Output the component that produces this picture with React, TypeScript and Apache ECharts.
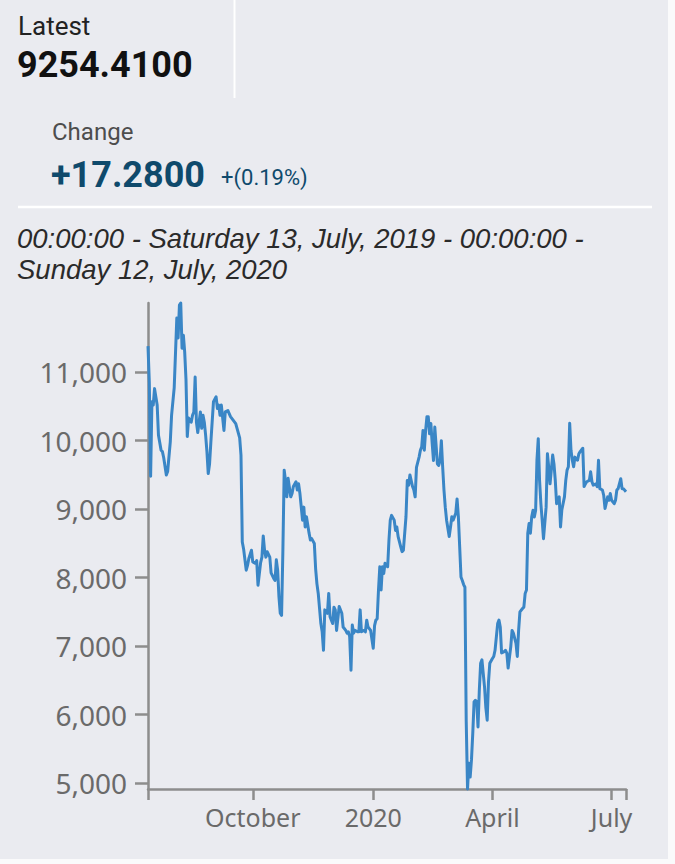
import React, { useEffect, useRef } from "react";
import * as echarts from "echarts";

const latestLabel = "Latest";
const latestValue = "9254.4100";
const changeLabel = "Change";
const changeValue = "+17.2800";
const changePct = "+(0.19%)";
const rangeLines = [
  "00:00:00 - Saturday 13, July, 2019 - 00:00:00 -",
  "Sunday 12, July, 2020",
];

const axisStart = "2019-07-13";
const axisEnd = "2020-07-12";
const xTickDates = ["2019-10-01", "2020-01-01", "2020-04-01", "2020-07-01"];
const xTickLabels = ["October", "2020", "April", "July"];
const yTickValues = [5000, 6000, 7000, 8000, 9000, 10000, 11000];

const priceSeries: [string, number][] = [
  ["2019-07-13", 11380], ["2019-07-14", 10850], ["2019-07-15", 9480], ["2019-07-16", 10570],
  ["2019-07-17", 10520], ["2019-07-18", 10760], ["2019-07-20", 10520], ["2019-07-21", 10080],
  ["2019-07-23", 9860], ["2019-07-24", 9840], ["2019-07-25", 9750], ["2019-07-27", 9500],
  ["2019-07-28", 9550], ["2019-07-30", 9980], ["2019-07-31", 10370], ["2019-08-02", 10770],
  ["2019-08-04", 11790], ["2019-08-05", 11500], ["2019-08-06", 11980], ["2019-08-07", 12010],
  ["2019-08-08", 11350], ["2019-08-09", 11540], ["2019-08-10", 11300], ["2019-08-11", 10900],
  ["2019-08-12", 10060], ["2019-08-13", 10330], ["2019-08-15", 10270], ["2019-08-16", 10370],
  ["2019-08-17", 10420], ["2019-08-18", 10930], ["2019-08-19", 10270], ["2019-08-20", 10120],
  ["2019-08-22", 10420], ["2019-08-23", 10180], ["2019-08-24", 10370], ["2019-08-25", 10270],
  ["2019-08-26", 10080], ["2019-08-27", 9840], ["2019-08-28", 9520], ["2019-08-29", 9660],
  ["2019-08-30", 9980], ["2019-09-01", 10570], ["2019-09-03", 10640], ["2019-09-04", 10470],
  ["2019-09-05", 10520], ["2019-09-06", 10370], ["2019-09-07", 10520], ["2019-09-09", 10150],
  ["2019-09-10", 10420], ["2019-09-12", 10440], ["2019-09-14", 10350], ["2019-09-16", 10300],
  ["2019-09-18", 10250], ["2019-09-19", 10180], ["2019-09-21", 10040], ["2019-09-22", 9790],
  ["2019-09-23", 8520], ["2019-09-24", 8420], ["2019-09-26", 8110], ["2019-09-27", 8180],
  ["2019-09-28", 8280], ["2019-09-30", 8400], ["2019-10-01", 8230], ["2019-10-03", 8210],
  ["2019-10-04", 8250], ["2019-10-05", 7890], ["2019-10-07", 8220], ["2019-10-08", 8300],
  ["2019-10-09", 8610], ["2019-10-10", 8400], ["2019-10-11", 8300], ["2019-10-12", 8380],
  ["2019-10-14", 8300], ["2019-10-15", 8070], ["2019-10-17", 7990], ["2019-10-18", 7960],
  ["2019-10-19", 8260], ["2019-10-20", 8110], ["2019-10-21", 7720], ["2019-10-22", 7480],
  ["2019-10-23", 7450], ["2019-10-24", 8400], ["2019-10-25", 9570], ["2019-10-26", 9420],
  ["2019-10-27", 9180], ["2019-10-28", 9450], ["2019-10-30", 9180], ["2019-10-31", 9230],
  ["2019-11-01", 9330], ["2019-11-03", 9400], ["2019-11-04", 9280], ["2019-11-05", 9370],
  ["2019-11-06", 9230], ["2019-11-08", 8840], ["2019-11-09", 9030], ["2019-11-10", 8740],
  ["2019-11-11", 8890], ["2019-11-13", 8650], ["2019-11-14", 8550], ["2019-11-15", 8570],
  ["2019-11-17", 8500], ["2019-11-18", 8130], ["2019-11-19", 7910], ["2019-11-20", 7770],
  ["2019-11-22", 7330], ["2019-11-23", 7210], ["2019-11-24", 6940], ["2019-11-25", 7530],
  ["2019-11-27", 7480], ["2019-11-28", 7770], ["2019-11-29", 7430], ["2019-12-01", 7330],
  ["2019-12-02", 7570], ["2019-12-03", 7530], ["2019-12-04", 7230], ["2019-12-06", 7580],
  ["2019-12-08", 7480], ["2019-12-09", 7280], ["2019-12-11", 7230], ["2019-12-12", 7190],
  ["2019-12-13", 7210], ["2019-12-14", 7140], ["2019-12-15", 6650], ["2019-12-16", 7310],
  ["2019-12-17", 7190], ["2019-12-18", 7230], ["2019-12-20", 7210], ["2019-12-21", 7210],
  ["2019-12-22", 7530], ["2019-12-23", 7210], ["2019-12-25", 7230], ["2019-12-26", 7210],
  ["2019-12-27", 7380], ["2019-12-28", 7280], ["2019-12-30", 7230], ["2020-01-01", 6970],
  ["2020-01-02", 7300], ["2020-01-03", 7380], ["2020-01-04", 7400], ["2020-01-05", 7820],
  ["2020-01-06", 8160], ["2020-01-07", 7820], ["2020-01-08", 8160], ["2020-01-09", 8060],
  ["2020-01-10", 8210], ["2020-01-12", 8160], ["2020-01-13", 8550], ["2020-01-14", 8840],
  ["2020-01-15", 8910], ["2020-01-17", 8840], ["2020-01-18", 8690], ["2020-01-19", 8740],
  ["2020-01-20", 8600], ["2020-01-22", 8450], ["2020-01-23", 8380], ["2020-01-24", 8400],
  ["2020-01-26", 8890], ["2020-01-27", 9420], ["2020-01-28", 9350], ["2020-01-29", 9500],
  ["2020-01-31", 9330], ["2020-02-01", 9280], ["2020-02-02", 9180], ["2020-02-03", 9610],
  ["2020-02-05", 9760], ["2020-02-06", 9860], ["2020-02-07", 9910], ["2020-02-08", 10150],
  ["2020-02-09", 9860], ["2020-02-10", 10150], ["2020-02-11", 10350], ["2020-02-12", 10350],
  ["2020-02-13", 10100], ["2020-02-14", 10250], ["2020-02-15", 9960], ["2020-02-16", 9710],
  ["2020-02-17", 10200], ["2020-02-19", 9660], ["2020-02-20", 9640], ["2020-02-21", 9710],
  ["2020-02-22", 10000], ["2020-02-23", 9620], ["2020-02-24", 9280], ["2020-02-25", 9030],
  ["2020-02-26", 8840], ["2020-02-28", 8600], ["2020-02-29", 8740], ["2020-03-01", 8890],
  ["2020-03-02", 8840], ["2020-03-04", 8940], ["2020-03-05", 9150], ["2020-03-06", 8890],
  ["2020-03-07", 8450], ["2020-03-08", 8010], ["2020-03-09", 7960], ["2020-03-10", 7900],
  ["2020-03-11", 7860], ["2020-03-12", 5900], ["2020-03-13", 4915], ["2020-03-14", 5290],
  ["2020-03-15", 5090], ["2020-03-16", 5340], ["2020-03-17", 5730], ["2020-03-18", 6190],
  ["2020-03-19", 6210], ["2020-03-20", 6190], ["2020-03-21", 5820], ["2020-03-22", 6360],
  ["2020-03-23", 6750], ["2020-03-24", 6800], ["2020-03-25", 6600], ["2020-03-26", 6400],
  ["2020-03-27", 6100], ["2020-03-28", 5920], ["2020-03-29", 6480], ["2020-03-30", 6750],
  ["2020-04-01", 6820], ["2020-04-02", 6850], ["2020-04-03", 6940], ["2020-04-05", 7330],
  ["2020-04-06", 7380], ["2020-04-07", 7280], ["2020-04-08", 6900], ["2020-04-10", 6920],
  ["2020-04-11", 6940], ["2020-04-12", 6900], ["2020-04-13", 6680], ["2020-04-15", 6990],
  ["2020-04-16", 7230], ["2020-04-17", 7190], ["2020-04-19", 7040], ["2020-04-20", 6850],
  ["2020-04-21", 7230], ["2020-04-22", 7500], ["2020-04-24", 7550], ["2020-04-25", 7570],
  ["2020-04-26", 7770], ["2020-04-27", 7820], ["2020-04-28", 8650], ["2020-04-29", 8790],
  ["2020-04-30", 8650], ["2020-05-01", 8890], ["2020-05-02", 8985], ["2020-05-03", 8885],
  ["2020-05-04", 8985], ["2020-05-05", 9715], ["2020-05-06", 10030], ["2020-05-07", 9420],
  ["2020-05-08", 9080], ["2020-05-09", 8840], ["2020-05-10", 8570], ["2020-05-12", 9030],
  ["2020-05-13", 9810], ["2020-05-14", 9610], ["2020-05-15", 9370], ["2020-05-17", 9790],
  ["2020-05-18", 9660], ["2020-05-19", 9420], ["2020-05-20", 9080], ["2020-05-22", 9180],
  ["2020-05-23", 8740], ["2020-05-24", 8990], ["2020-05-26", 9180], ["2020-05-27", 9420],
  ["2020-05-28", 9570], ["2020-05-29", 9620], ["2020-05-30", 10255], ["2020-05-31", 9860],
  ["2020-06-01", 9715], ["2020-06-02", 9620], ["2020-06-03", 9760], ["2020-06-05", 9715],
  ["2020-06-06", 9810], ["2020-06-07", 9840], ["2020-06-09", 9890], ["2020-06-10", 9330],
  ["2020-06-11", 9370], ["2020-06-12", 9400], ["2020-06-14", 9420], ["2020-06-15", 9545],
  ["2020-06-16", 9400], ["2020-06-17", 9350], ["2020-06-19", 9370], ["2020-06-20", 9330],
  ["2020-06-21", 9715], ["2020-06-22", 9300], ["2020-06-24", 9280], ["2020-06-25", 9200],
  ["2020-06-26", 9010], ["2020-06-28", 9180], ["2020-06-29", 9130], ["2020-06-30", 9230],
  ["2020-07-01", 9130], ["2020-07-03", 9080], ["2020-07-04", 9130], ["2020-07-05", 9280],
  ["2020-07-06", 9300], ["2020-07-08", 9445], ["2020-07-09", 9300], ["2020-07-10", 9300],
  ["2020-07-12", 9254.41],
];

function ts(s: string): number {
  const [y, m, d] = s.split("-").map(Number);
  return new Date(y, m - 1, d).getTime();
}

const SANS = "'Noto Sans', 'Open Sans', sans-serif";
const HEAD = "Roboto, 'Noto Sans', sans-serif";
const SUB = "'Liberation Sans', Arial, sans-serif";
const AXIS_GRAY = "#8d8d8d";
const LABEL_GRAY = "#6a6a6a";
const DARK_BLUE = "#0f4a6c";

export default function App() {
  const ref = useRef<HTMLDivElement>(null);

  useEffect(() => {
    if (!ref.current) return;
    const chart = echarts.init(ref.current, undefined, { renderer: "svg" });
    const xTicks = xTickDates.map(ts);
    const startTs = ts(axisStart);
    const endTs = ts(axisEnd);

    const txt = (
      text: string,
      x: number,
      y: number,
      fontSize: number,
      fill: string,
      extra: Record<string, unknown> = {}
    ) => ({
      type: "text",
      x,
      y,
      silent: true,
      style: {
        text,
        fontSize,
        fontFamily: HEAD,
        fill,
        align: "left",
        verticalAlign: "middle",
        ...extra,
      },
    });

    chart.setOption({
      animation: false,
      backgroundColor: "#eaebf0",
      grid: { left: 148, top: 303, width: 478, height: 486, containLabel: false },
      xAxis: {
        type: "value",
        min: startTs,
        max: endTs,
        axisLine: { show: true, lineStyle: { color: AXIS_GRAY, width: 2.5 } },
        axisTick: {
          show: true,
          length: 11,
          customValues: [startTs, ...xTicks, endTs],
          lineStyle: { color: AXIS_GRAY, width: 2.5 },
        },
        axisLabel: {
          customValues: xTicks,
          formatter: (v: number) => {
            const i = xTicks.indexOf(v);
            return i >= 0 ? xTickLabels[i] : "";
          },
          color: LABEL_GRAY,
          fontSize: 25,
          fontFamily: SANS,
          margin: 15,
        },
        splitLine: { show: false },
      },
      yAxis: {
        type: "value",
        min: "dataMin",
        max: "dataMax",
        axisLine: { show: true, lineStyle: { color: AXIS_GRAY, width: 2.5 } },
        axisTick: {
          show: true,
          length: 13,
          customValues: yTickValues,
          lineStyle: { color: AXIS_GRAY, width: 2.5 },
        },
        axisLabel: {
          customValues: yTickValues,
          formatter: (v: number) => v.toLocaleString("en-US"),
          color: LABEL_GRAY,
          fontSize: 28,
          fontFamily: SANS,
          margin: 21,
        },
        splitLine: { show: false },
      },
      series: [
        {
          type: "line",
          data: priceSeries.map(([d, v]) => [ts(d), v]),
          showSymbol: false,
          symbol: "none",
          clip: false,
          lineStyle: { color: "#3a86c6", width: 3, join: "round" },
        },
      ],
      graphic: [
        { type: "line", silent: true, shape: { x1: 234.5, y1: 0, x2: 234.5, y2: 98 }, style: { stroke: "#ffffff", lineWidth: 2 } },
        { type: "line", silent: true, shape: { x1: 18, y1: 207, x2: 652, y2: 207 }, style: { stroke: "#ffffff", lineWidth: 2.5 } },
        txt(latestLabel, 18, 26, 26, "#222222"),
        txt(latestValue, 17, 65, 36, "#111111", { fontWeight: "bold" }),
        txt(changeLabel, 52, 132, 24, "#4d4d4d"),
        txt(changeValue, 51, 175, 36, DARK_BLUE, { fontWeight: "bold" }),
        txt(changePct, 221, 177, 22, DARK_BLUE),
        txt(rangeLines[0], 17, 238, 27.5, "#2a2a2a", { fontStyle: "italic", fontFamily: SUB }),
        txt(rangeLines[1], 17, 269, 27.5, "#2a2a2a", { fontStyle: "italic", fontFamily: SUB }),
      ],
    });
    return () => chart.dispose();
  }, []);

  return (
    <div style={{ position: "fixed", left: 0, top: 0, width: 675, height: 864, background: "#fafafb" }}>
      <div ref={ref} style={{ width: 668, height: 859 }} />
    </div>
  );
}
